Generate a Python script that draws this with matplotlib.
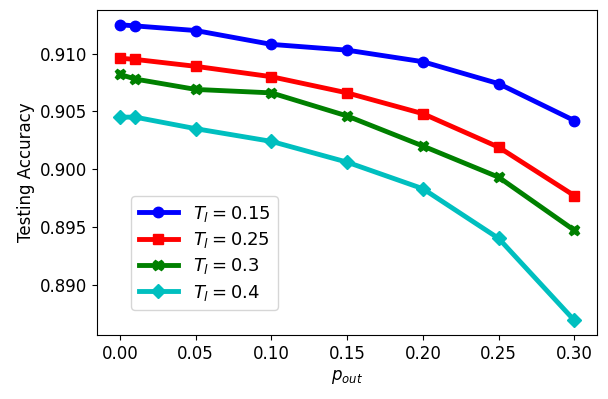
import matplotlib
matplotlib.use("Agg")
import matplotlib.pyplot as plt

p_out = [0.0, 0.01, 0.05, 0.10, 0.15, 0.20, 0.25, 0.30]

acc_015 = [0.9125, 0.9124, 0.9120, 0.9108, 0.9103, 0.9093, 0.9074, 0.9042]
acc_025 = [0.9096, 0.9095, 0.9089, 0.9080, 0.9066, 0.9048, 0.9019, 0.8977]
acc_03 = [0.9082, 0.9078, 0.9069, 0.9066, 0.9046, 0.9020, 0.8993, 0.8947]
acc_04 = [0.9045, 0.9045, 0.9035, 0.9024, 0.9006, 0.8983, 0.8940, 0.8869]

labels = [r"$T_l = 0.15$", r"$T_l = 0.25$", r"$T_l = 0.3$", r"$T_l = 0.4$"]
colors = ["b", "r", "g", "c"]
markers = ["o", "s", "X", "D"]

plt.rcParams["font.size"] = 12

fig, ax = plt.subplots(figsize=(6.08, 3.99), dpi=100)

for ys, lab, c, m in zip([acc_015, acc_025, acc_03, acc_04], labels, colors, markers):
    ax.plot(p_out, ys, color=c, marker=m, label=lab, linewidth=3.5, markersize=7.5)

ax.set_xlabel(r"$p_{out}$")
ax.set_ylabel("Testing Accuracy")
ax.set_xticks([0.0, 0.05, 0.10, 0.15, 0.20, 0.25, 0.30])
ax.legend(loc="lower left", bbox_to_anchor=(0.05, 0.05), fontsize=13,
          handlelength=2.2, labelspacing=0.35)

fig.subplots_adjust(left=0.16, right=0.982, top=0.975, bottom=0.16)
fig.savefig("out.png", dpi=100)
